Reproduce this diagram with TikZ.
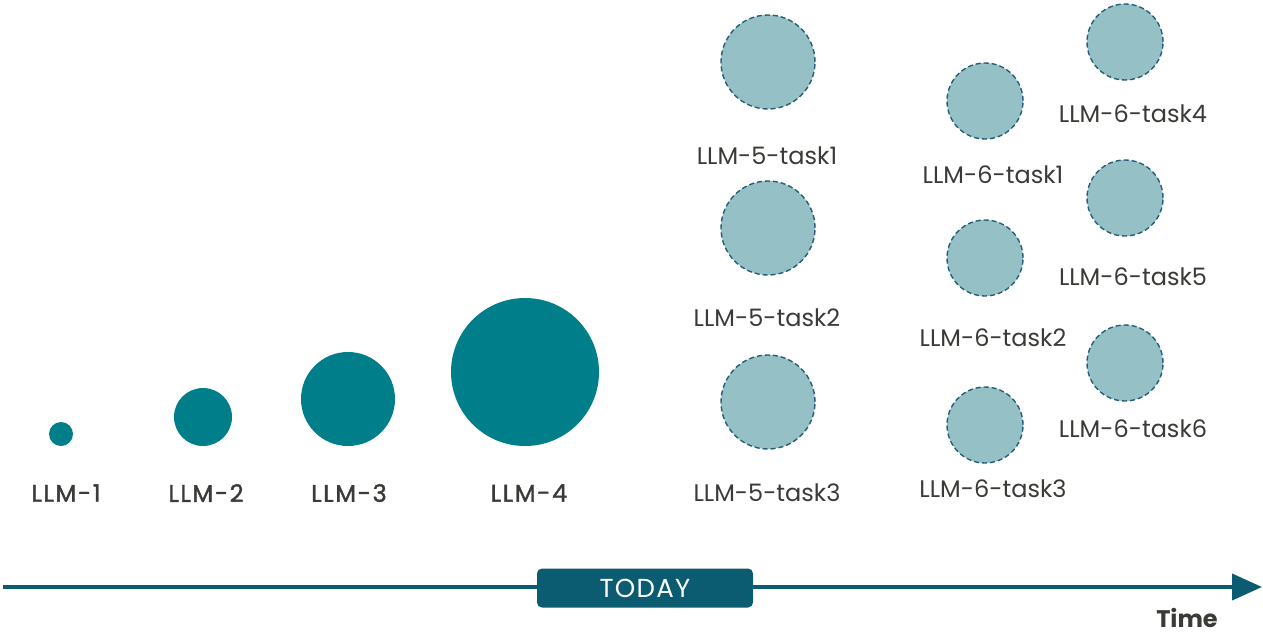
\documentclass[tikz,border=0pt]{standalone}
\usepackage{fontspec}
\setmainfont{Poppins}
\usetikzlibrary{arrows.meta}
\definecolor{llmteal}{HTML}{007E8A}
\definecolor{tasklight}{HTML}{94C0C6}
\definecolor{taskedge}{HTML}{245F76}
\definecolor{axisblue}{HTML}{0B5C71}
\definecolor{labelgray}{HTML}{3A3A36}
\begin{document}
\begin{tikzpicture}[x=1pt,y=-1pt]
				\tikzstyle{every node}+=[inner sep=0pt]
				\tikzstyle{model}=[circle,fill=llmteal]
				\tikzstyle{task}=[circle,fill=tasklight,draw=taskedge,line width=1.4pt,dash pattern=on 5pt off 3pt]
				\tikzstyle{lbl}=[text=labelgray,font=\fontsize{24}{28}\selectfont]
				\tikzstyle{mlbl}=[text=labelgray,font=\fontsize{24}{28}\selectfont\addfontfeatures{LetterSpace=7,FakeBold=1.5}]
				\useasboundingbox (0,0) rectangle (1263,634);
				% models up to today
				\node [model,minimum size=24] (m1) at (61,434) {};
				\node [model,minimum size=58] (m2) at (203,417) {};
				\node [model,minimum size=94] (m3) at (348,399) {};
				\node [model,minimum size=148] (m4) at (525,372) {};
				\node [mlbl] (m1l) at (66,493) {LLM-1};
				\node [mlbl] (m2l) at (206,493) {LLM-2};
				\node [mlbl] (m3l) at (349,493) {LLM-3};
				\node [mlbl] (m4l) at (529,493) {LLM-4};
				% task models
				\node [task,minimum size=94] (t51) at (768,62) {};
				\node [task,minimum size=94] (t52) at (768,228) {};
				\node [task,minimum size=94] (t53) at (768,402) {};
				\node [lbl] (t51l) at (767,156) {LLM-5-task1};
				\node [lbl] (t52l) at (767,318) {LLM-5-task2};
				\node [lbl] (t53l) at (767,493) {LLM-5-task3};
				\node [task,minimum size=76] (t61) at (985,101) {};
				\node [task,minimum size=76] (t62) at (985,258) {};
				\node [task,minimum size=76] (t63) at (985,425) {};
				\node [lbl] (t61l) at (993,175) {LLM-6-task1};
				\node [lbl] (t62l) at (993,338) {LLM-6-task2};
				\node [lbl] (t63l) at (993,489) {LLM-6-task3};
				\node [task,minimum size=76] (t64) at (1125,42) {};
				\node [task,minimum size=76] (t65) at (1125,198) {};
				\node [task,minimum size=76] (t66) at (1125,363) {};
				\node [lbl] (t64l) at (1133,114) {LLM-6-task4};
				\node [lbl] (t65l) at (1133,277) {LLM-6-task5};
				\node [lbl] (t66l) at (1133,429) {LLM-6-task6};
				% time axis
				\coordinate (tstart) at (3,587);
				\coordinate (tend) at (1262,587);
				\draw [axisblue,line width=4pt,-{Triangle[length=30pt,width=26pt]}] (tstart) -- (tend);
				\node [fill=axisblue,rounded corners=5pt,minimum width=216,minimum height=39,text=white,font=\fontsize{26}{28}\selectfont\addfontfeatures{LetterSpace=5}] (today) at (645,588) {TODAY};
				\node [text=labelgray,font=\fontsize{24}{28}\selectfont\bfseries] (time) at (1187,618) {Time};
\end{tikzpicture}
\end{document}
